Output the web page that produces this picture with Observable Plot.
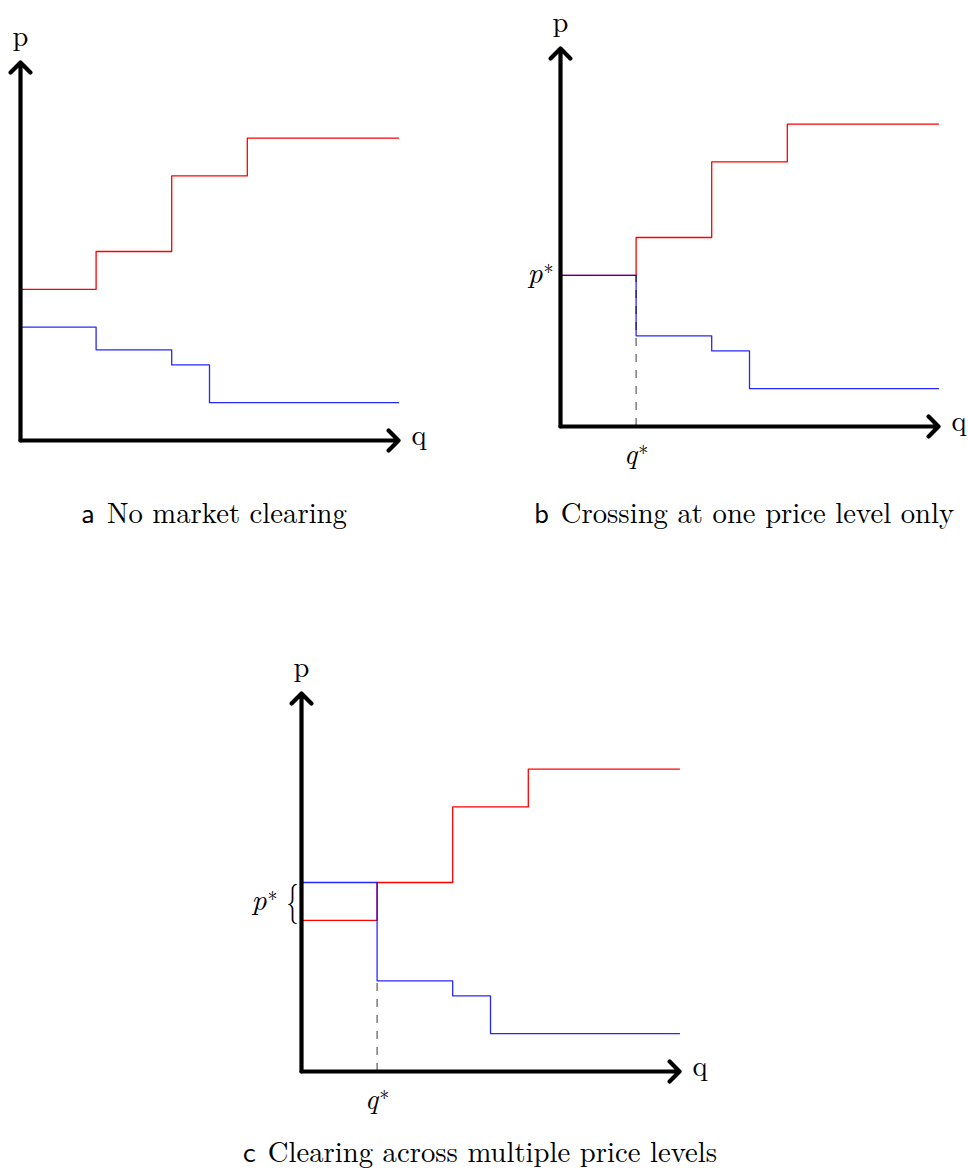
<!DOCTYPE html>
<html>
<head>
<meta charset="utf-8">
<script src="https://cdn.jsdelivr.net/npm/d3@7"></script>
<script src="https://cdn.jsdelivr.net/npm/@observablehq/plot@0.6"></script>
<style>
  html, body { margin: 0; padding: 0; background: white; }
  #wrap { position: relative; width: 968px; height: 1171px; overflow: hidden; background: white; }
  .panel { position: absolute; width: 600px; }
  .panel svg { max-width: none !important; }
  .cap { position: absolute; width: 700px; text-align: center; font-size: 28.7px; line-height: 29px; color: #000; white-space: nowrap; }
</style>
</head>
<body>
<div id="wrap"></div>
<script>
// ---- data ----
const supplyQ = [0, 2, 4, 6, 10];
const supplyP = [4, 5, 7, 8, 8];
const demandQ = [0, 2, 4, 5, 10];
const demandA = [3, 2.4, 2, 1, 1];
const demandB = [4, 2.4, 2, 1, 1];
const demandC = [5, 2.4, 2, 1, 1];
const qStar = 2;
const pStarB = 4;
const pStarRangeC = [4, 5];
const dashTopB = 4;
const dashTopC = 2.4;
const axisMax = 10;
const letters = ["a", "b", "c"];
const captions = ["No market clearing", "Crossing at one price level only", "Clearing across multiple price levels"];

const supply = supplyQ.map((q, i) => ({q, p: supplyP[i]}));
const toDemand = arr => demandQ.map((q, i) => ({q, p: arr[i]}));

const SERIF = "'Latin Modern Roman', 'Liberation Serif', serif";
const SANS = "'Latin Modern Sans', 'Liberation Sans', sans-serif";
const FS = 28.5;
const UNIT = 378;

function panel({demand, mL, mT, mR, mB, dashTop, pStar, braceRange}) {
  const marks = [];
  marks.push(Plot.line(supply, {x: "q", y: "p", curve: "step-after", stroke: "#ff0000", strokeWidth: 1.3}));
  marks.push(Plot.line(demand, {x: "q", y: "p", curve: "step-after", stroke: "#0000ff", strokeWidth: 1.3, strokeOpacity: 0.85}));
  if (dashTop != null) {
    marks.push(Plot.ruleX([qStar], {y1: 0, y2: dashTop, stroke: "black", strokeOpacity: 0.6, strokeWidth: 1.3, strokeDasharray: "8,8"}));
  }
  marks.push(Plot.arrow([{x1: 0, y1: 0, x2: axisMax, y2: 0}, {x1: 0, y1: 0, x2: 0, y2: axisMax}],
    {x1: "x1", y1: "y1", x2: "x2", y2: "y2", stroke: "black", strokeWidth: 4.2, headLength: 5, headAngle: 90,
     strokeLinecap: "round", strokeLinejoin: "round"}));
  marks.push(Plot.text(["p"], {x: 0, y: axisMax, text: d => d, lineAnchor: "bottom", dy: -17, fontSize: FS, fontFamily: SERIF, fill: "black"}));
  marks.push(Plot.text(["q"], {x: axisMax, y: 0, text: d => d, lineAnchor: "bottom", textAnchor: "start", dx: 13, dy: 4, fontSize: FS, fontFamily: SERIF, fill: "black"}));
  if (dashTop != null) {
    marks.push(Plot.text(["q*"], {x: qStar, y: 0, text: d => d, lineAnchor: "bottom", dy: 37, fontSize: FS, fontFamily: SERIF, fill: "black", className: "star"}));
  }
  if (pStar != null) {
    marks.push(Plot.text(["p*"], {x: 0, y: pStar, text: d => d, lineAnchor: "bottom", textAnchor: "end", dx: -7, dy: 8, fontSize: 29.5, fontFamily: SERIF, fill: "black", className: "star"}));
  }
  if (braceRange) {
    const mid = (braceRange[0] + braceRange[1]) / 2;
    marks.push(Plot.text(["p*"], {x: 0, y: mid, text: d => d, lineAnchor: "bottom", textAnchor: "end", dx: -24, dy: 9, fontSize: 29.5, fontFamily: SERIF, fill: "black", className: "star"}));
    marks.push(Plot.text(["{"], {x: 0, y: mid, text: d => d, lineAnchor: "middle", textAnchor: "middle", dx: -9, fontSize: 40, fontFamily: SERIF, fill: "black", className: "brace"}));
  }
  const svg = Plot.plot({
    width: mL + UNIT + mR, height: mT + UNIT + mB,
    marginLeft: mL, marginRight: mR, marginTop: mT, marginBottom: mB,
    x: {domain: [0, axisMax], axis: null},
    y: {domain: [0, axisMax], axis: null},
    style: {background: "transparent", overflow: "visible", maxWidth: "none"},
    marks
  });
  svg.querySelectorAll("g.star text").forEach(t => {
    const s = t.textContent;
    t.textContent = "";
    const a = document.createElementNS("http://www.w3.org/2000/svg", "tspan");
    a.setAttribute("font-style", "italic");
    a.textContent = s[0];
    const b = document.createElementNS("http://www.w3.org/2000/svg", "tspan");
    b.setAttribute("font-size", "20");
    b.setAttribute("dy", "-4");
    b.setAttribute("dx", "1");
    b.textContent = "*";
    t.appendChild(a); t.appendChild(b);
  });
  svg.querySelectorAll("g.brace text").forEach(t => {
    t.setAttribute("transform", (t.getAttribute("transform") || "") + " scale(0.6,1)");
  });
  return svg;
}

const wrap = document.getElementById("wrap");
function place(svg, left, top) {
  const d = document.createElement("div");
  d.className = "panel";
  d.style.left = left + "px"; d.style.top = top + "px";
  d.appendChild(svg); wrap.appendChild(d);
}
place(panel({demand: toDemand(demandA), mL: 20, mT: 62, mR: 50, mB: 40}), 0, 0);
place(panel({demand: toDemand(demandB), mL: 60, mT: 48, mR: 50, mB: 60, dashTop: dashTopB, pStar: pStarB}), 500, 0);
place(panel({demand: toDemand(demandC), mL: 61, mT: 63, mR: 50, mB: 60, dashTop: dashTopC, braceRange: pStarRangeC}), 240, 630);

function caption(i, cx, top) {
  const d = document.createElement("div");
  d.className = "cap";
  d.style.left = (cx - 350) + "px"; d.style.top = top + "px";
  d.style.fontFamily = SERIF;
  const l = document.createElement("span");
  l.style.fontFamily = SANS; l.style.marginRight = "12px";
  l.textContent = letters[i];
  const r = document.createElement("span");
  r.style.fontFamily = SERIF;
  r.textContent = captions[i];
  d.appendChild(l); d.appendChild(r);
  wrap.appendChild(d);
}
caption(0, 214, 497);
caption(1, 744, 497);
caption(2, 480, 1136);
</script>
</body>
</html>
